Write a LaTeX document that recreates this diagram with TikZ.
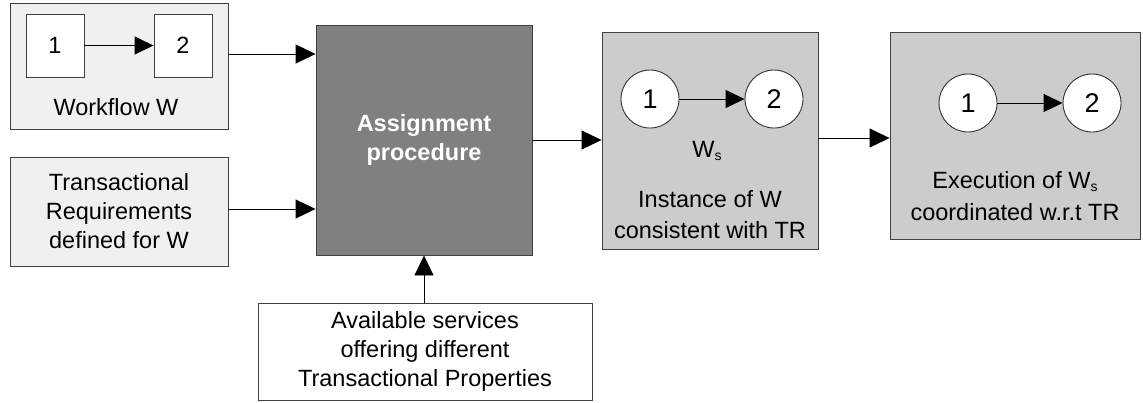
\documentclass[tikz,border=0pt]{standalone}
\usepackage{fontspec}
\setmainfont{Liberation Sans}
\usetikzlibrary{arrows.meta,calc}
\newcommand{\Wsub}{W\raisebox{-0.3ex}{\fontsize{14pt}{14pt}\selectfont s}}
\begin{document}
\begin{tikzpicture}[x=1pt,y=-1pt,
  txt/.style={font=\fontsize{23.5pt}{29pt}\selectfont, align=center},
  box/.style={draw=black!75, line width=0.9pt, inner sep=0pt, txt},
  lightbox/.style={box, fill=black!6},
  graybox/.style={box, fill=black!20},
  darkbox/.style={box, fill=black!50, text=white, font=\bfseries\fontsize{23.5pt}{28.5pt}\selectfont},
  whitebox/.style={box, fill=white},
  circ/.style={circle, draw=black!80, line width=0.9pt, fill=white, minimum size=58pt, inner sep=0pt, font=\fontsize{27pt}{27pt}\selectfont},
  arr/.style={draw=black, line width=0.9pt, -{Triangle[length=20pt,width=19pt]}},
  sarr/.style={draw=black, line width=0.9pt, -{Triangle[length=19pt,width=18pt]}}
]
\useasboundingbox (0,0) rectangle (1143,402);

% Workflow W
\node[lightbox, minimum width=218pt, minimum height=126pt] (wf) at (119,66) {};
\node[whitebox, minimum width=58pt, minimum height=63pt] (b1) at (55,45.5) {1};
\node[whitebox, minimum width=58pt, minimum height=63pt] (b2) at (183,45.5) {2};
\draw[sarr] (b1) -- (b2);
\node[txt, anchor=base] (wfl) at (116,115) {Workflow W};

% Transactional requirements
\node[lightbox, minimum width=218pt, minimum height=109pt] (tr) at (119,211.5)
  {Transactional\\Requirements\\defined for W};

% Assignment
\node[darkbox, minimum width=216pt, minimum height=230pt] (asg) at (424,140)
  {Assignment\\procedure};

% Available services
\node[whitebox, minimum width=334pt, minimum height=97pt] (av) at (425,351.5)
  {Available services\\offering different\\Transactional Properties};

% Instance
\node[graybox, minimum width=216pt, minimum height=217pt] (inst) at (710,140.5) {};
\node[circ] (c1) at (650,99) {1};
\node[circ] (c2) at (774,99) {2};
\draw[sarr] (c1) -- (c2);
\node[txt, anchor=base] (ws) at (707,157) {\Wsub};
\node[txt, anchor=base] (il1) at (710,207) {Instance of W};
\node[txt, anchor=base] (il2) at (710,238) {consistent with TR};

% Execution
\node[graybox, minimum width=250pt, minimum height=207pt] (ex) at (1015,135.5) {};
\node[circ] (c3) at (968,103) {1};
\node[circ] (c4) at (1092,103) {2};
\draw[sarr] (c3) -- (c4);
\node[txt, anchor=base] (el1) at (1015,188) {Execution of \Wsub};
\node[txt, anchor=base] (el2) at (1015,220) {coordinated w.r.t TR};

% connectors
\draw[arr] (wf.east |- 0,54) -- (asg.west |- 0,54);
\draw[arr] (tr.east |- 0,209) -- (asg.west |- 0,209);
\draw[arr] (asg.east |- 0,140) -- (inst.west |- 0,140);
\draw[arr] (inst.east |- 0,138) -- (ex.west |- 0,138);
\draw[arr] (av.north -| 424,0) -- (asg.south -| 424,0);
\end{tikzpicture}
\end{document}
